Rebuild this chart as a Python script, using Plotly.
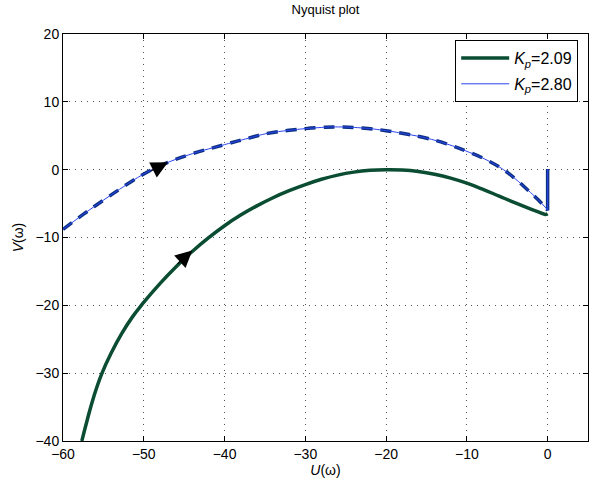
import plotly.graph_objects as go

# Kp = 2.09 curve (green)
green_u = [-57.67, -57.0, -56.2, -55.17, -54.0, -52.7, -51.4, -50.17, -48.0, -46.0,
           -44.0, -42.0, -40.0, -38.0, -36.0, -34.0, -32.0, -30.0, -28.0, -26.0,
           -24.0, -22.0, -20.0, -18.0, -16.0, -14.0, -12.0, -10.0, -8.0, -6.0,
           -4.0, -2.0, -1.0, -0.3, 0.0]
green_v = [-40.0, -36.9, -33.5, -30.0, -26.96, -24.1, -21.7, -19.8, -16.8, -14.3,
           -12.06, -10.06, -8.26, -6.7, -5.34, -4.14, -3.1, -2.2, -1.42, -0.8,
           -0.36, -0.1, -0.01, -0.05, -0.27, -0.67, -1.24, -1.99, -2.9, -3.9,
           -4.9, -5.85, -6.3, -6.6, -6.5]

# Kp = 2.80 curve (blue)
blue_u = [-60.0, -57.5, -55.0, -53.0, -51.38, -49.0, -46.99, -44.0, -40.0, -37.0,
          -34.66, -32.0, -30.0, -28.0, -26.3, -23.0, -20.0, -17.5, -15.07, -12.5,
          -10.0, -7.5, -5.47, -4.0, -2.5, -1.2, -0.1]
blue_v = [-8.8, -6.6, -4.5, -2.9, -1.62, 0.0, 1.08, 2.35, 3.69, 4.65,
          5.35, 5.8, 6.05, 6.22, 6.3, 6.15, 5.75, 5.25, 4.67, 3.8,
          2.7, 1.4, 0.0, -1.35, -2.95, -4.4, -5.8]
# final vertical part of the blue curve at U = 0
blue_tail_u = [-0.1, 0.0, 0.0]
blue_tail_v = [-5.8, -6.0, 0.1]

x_ticks = [-60, -50, -40, -30, -20, -10, 0]
y_ticks = [-40, -30, -20, -10, 0, 10, 20]

GREEN = "#0b4d33"
BLUE = "#2a45f0"
NAVY = "#0d3080"

fig = go.Figure()

fig.add_trace(go.Scatter(x=green_u, y=green_v, mode="lines",
                         line=dict(color=GREEN, width=3.5, shape="spline", smoothing=1.3),
                         name="<i>K</i><sub><i>p</i></sub>=2.09"))
# dashed thick overlay on blue curve
fig.add_trace(go.Scatter(x=blue_u, y=blue_v, mode="lines", showlegend=False,
                         line=dict(color=NAVY, width=3.5, dash="11px,8px", shape="spline", smoothing=1.3)))
fig.add_trace(go.Scatter(x=blue_tail_u, y=blue_tail_v, mode="lines", showlegend=False,
                         line=dict(color=NAVY, width=3.5)))
fig.add_trace(go.Scatter(x=blue_u, y=blue_v, mode="lines",
                         line=dict(color=BLUE, width=1, shape="spline", smoothing=1.3),
                         name="<i>K</i><sub><i>p</i></sub>=2.80", legendgroup="b"))
fig.add_trace(go.Scatter(x=blue_tail_u, y=blue_tail_v, mode="lines", showlegend=False,
                         line=dict(color=BLUE, width=1), legendgroup="b"))

# direction arrows
arrows = [
    dict(x=-44.0, y=-11.9, ax=-46.0, ay=-14.1),
    dict(x=-47.0, y=1.08, ax=-49.3, ay=-0.3),
]
for a in arrows:
    fig.add_annotation(x=a["x"], y=a["y"], ax=a["ax"], ay=a["ay"],
                       xref="x", yref="y", axref="x", ayref="y",
                       showarrow=True, arrowhead=2, arrowsize=2.8, arrowwidth=1.2,
                       arrowcolor="black", text="", standoff=0)

axis_common = dict(showline=True, linecolor="black", linewidth=1, mirror="ticks",
                   ticks="inside", ticklen=5, tickcolor="black",
                   showgrid=True, gridcolor="#555555", gridwidth=1, griddash="1px,5px",
                   zeroline=False, tickfont=dict(size=14, color="black"))

fig.update_xaxes(range=[-60, 5], tickvals=x_ticks, **axis_common,
                 title=dict(text="<i>U</i>(ω)", font=dict(size=14, color="black"), standoff=3))
fig.update_yaxes(range=[-40, 20], tickvals=y_ticks, **axis_common,
                 title=dict(text="<i>V</i>(ω)", font=dict(size=14, color="black"), standoff=8))

fig.update_layout(
    width=589, height=486,
    margin=dict(l=63, r=1, t=34, b=45),
    paper_bgcolor="white", plot_bgcolor="white",
    font=dict(family="Liberation Sans, Arial, sans-serif", size=14, color="black"),
    title=dict(text="Nyquist plot", x=0.5, xref="paper", y=0.981, yref="container",
               xanchor="center", yanchor="middle", font=dict(size=13, color="black")),
    legend=dict(x=0.747, y=0.985, xanchor="left", yanchor="top",
                bgcolor="white", bordercolor="black", borderwidth=1,
                itemwidth=48,
                font=dict(size=16, color="black"), tracegroupgap=2),
    showlegend=True,
)

fig.write_html("out.html", config={"displayModeBar": False},
               post_script="document.body.style.margin='0';")
